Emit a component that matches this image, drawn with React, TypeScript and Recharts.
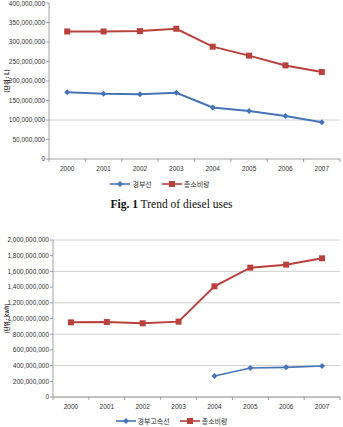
import React from 'react'
import {
  LineChart, Line, XAxis, YAxis, CartesianGrid, Legend,
} from 'recharts'

const years = ['2000', '2001', '2002', '2003', '2004', '2005', '2006', '2007']

// diesel (L)
const gyeongbuDiesel = [171e6, 167e6, 166e6, 170e6, 132e6, 123e6, 110e6, 94e6]
const totalDiesel = [327e6, 327e6, 328e6, 334e6, 288e6, 265e6, 240e6, 223e6]
const dieselTicks = [0, 50e6, 100e6, 150e6, 200e6, 250e6, 300e6, 350e6, 400e6]
const dieselGrid = [50e6, 100e6]

// electricity (kwh)
const gyeongbuHsr = [null, null, null, null, 267e6, 369e6, 378e6, 395e6]
const totalElectric = [951e6, 955e6, 939e6, 960e6, 1410e6, 1648e6, 1686e6, 1767e6]
const electricTicks = [0, 200e6, 400e6, 600e6, 800e6, 1000e6, 1200e6, 1400e6, 1600e6, 1800e6, 2000e6]

const BLUE = '#4674B8'
const RED = '#B8413E'
const AXIS = '#8c8c8c'
const GRID = '#c4c4c4'
const FONT = '"Liberation Sans", Arial, sans-serif'
const KFONT = '"Noto Sans CJK KR", sans-serif'

const W = 343
const fmt = (v: number) => v.toLocaleString('en-US')

// eslint-disable-next-line @typescript-eslint/no-explicit-any
function SquareDot(props: any) {
  const { cx, cy } = props
  if (cx == null || cy == null) return null
  return <rect x={cx - 3} y={cy - 3} width={6} height={6} fill={RED} />
}

// eslint-disable-next-line @typescript-eslint/no-explicit-any
function DiamondDot(props: any) {
  const { cx, cy, value } = props
  if (cx == null || cy == null || value == null) return null
  return <path d={`M${cx},${cy - 3}L${cx + 3},${cy}L${cx},${cy + 3}L${cx - 3},${cy}Z`} fill={BLUE} />
}

// category tick with Excel-style marks between bands
function makeTick(band: number, last: number) {
  // eslint-disable-next-line @typescript-eslint/no-explicit-any
  return function YearTick(props: any) {
    const { x, y, payload, index } = props
    return (
      <g>
        <line x1={x - band / 2} x2={x - band / 2} y1={y} y2={y + 3} stroke={AXIS} strokeWidth={0.8} />
        {index === last && (
          <line x1={x + band / 2} x2={x + band / 2} y1={y} y2={y + 3} stroke={AXIS} strokeWidth={0.8} />
        )}
        <text x={x} y={y + 11.5} textAnchor="middle" fontSize={6.5} fontFamily={FONT} fill="#333">
          {payload.value}
        </text>
      </g>
    )
  }
}

function makeLegend(names: string[], height: number) {
  return function SeriesLegend() {
    return (
      <div style={{ display: 'flex', justifyContent: 'center', gap: 10, height, alignItems: 'center' }}>
        {names.map((n, i) => (
          <span key={n} style={{ display: 'flex', alignItems: 'center', fontFamily: KFONT, fontSize: 7, color: '#333' }}>
            <svg width={20} height={8} style={{ marginRight: 2 }}>
              <line x1={0} x2={20} y1={4} y2={4} stroke={i === 0 ? BLUE : RED} strokeWidth={1.6} />
              {i === 0
                ? <path d="M10,1L13,4L10,7L7,4Z" fill={BLUE} />
                : <rect x={7} y={1} width={6} height={6} fill={RED} />}
            </svg>
            {n}
          </span>
        ))}
      </div>
    )
  }
}

const dieselData = years.map((y, i) => ({ year: y, gyeongbu: gyeongbuDiesel[i], total: totalDiesel[i] }))
const electricData = years.map((y, i) => ({ year: y, gyeongbu: gyeongbuHsr[i], total: totalElectric[i] }))

const tickStyle = { fontSize: 6.5, fontFamily: FONT, fill: '#333' }

export default function App() {
  const topBand = (W - 49 - 3) / years.length
  const botBand = (W - 53 - 3) / years.length
  return (
    <div style={{ position: 'absolute', left: 0, top: 0, width: W, height: 427, background: '#fff' }}>
      <LineChart width={W} height={195} data={dieselData} margin={{ top: 3, right: 3, bottom: 4, left: 0 }}>
        <CartesianGrid vertical={false} horizontalValues={dieselGrid} stroke={GRID} strokeWidth={0.8} />
        <XAxis
          dataKey="year"
          height={18}
          padding={{ left: topBand / 2, right: topBand / 2 }}
          axisLine={{ stroke: AXIS, strokeWidth: 0.8 }}
          tickLine={false}
          tickSize={0}
          tickMargin={0}
          interval={0}
          tick={makeTick(topBand, years.length - 1)}
        />
        <YAxis
          width={49}
          domain={[0, 400e6]}
          ticks={dieselTicks}
          tickFormatter={fmt}
          tick={tickStyle}
          tickSize={3}
          tickMargin={1}
          axisLine={{ stroke: AXIS, strokeWidth: 0.8 }}
          tickLine={{ stroke: AXIS, strokeWidth: 0.8 }}
          label={{ value: '(단위 : L)', angle: -90, position: 'insideLeft', offset: 7, style: { fontSize: 6, fontFamily: KFONT, fontWeight: 'bold', fill: '#333', textAnchor: 'middle' } }}
        />
        <Legend verticalAlign="bottom" wrapperStyle={{ left: 0, width: 320 }} content={makeLegend(['경부선', '총소비량'], 14)} />
        <Line dataKey="gyeongbu" name="경부선" stroke={BLUE} strokeWidth={2} dot={<DiamondDot />} isAnimationActive={false} />
        <Line dataKey="total" name="총소비량" stroke={RED} strokeWidth={2} dot={<SquareDot />} isAnimationActive={false} />
      </LineChart>

      <div style={{ height: 30, boxSizing: 'border-box', paddingTop: 3, textAlign: 'center', lineHeight: '13px', fontFamily: '"Liberation Serif", serif', fontSize: 11.5, color: '#111' }}>
        <b>Fig. 1</b> Trend of diesel uses
      </div>

      <LineChart width={W} height={202} data={electricData} margin={{ top: 15, right: 3, bottom: 0, left: 0 }}>
        <CartesianGrid vertical={false} stroke={GRID} strokeWidth={0.8} />
        <XAxis
          dataKey="year"
          height={18}
          padding={{ left: botBand / 2, right: botBand / 2 }}
          axisLine={{ stroke: AXIS, strokeWidth: 0.8 }}
          tickLine={false}
          tickSize={0}
          tickMargin={0}
          interval={0}
          tick={makeTick(botBand, years.length - 1)}
        />
        <YAxis
          width={53}
          domain={[0, 2000e6]}
          ticks={electricTicks}
          tickFormatter={fmt}
          tick={tickStyle}
          tickSize={3}
          tickMargin={1}
          axisLine={{ stroke: AXIS, strokeWidth: 0.8 }}
          tickLine={{ stroke: AXIS, strokeWidth: 0.8 }}
          label={{ value: '(단위 : kwh)', angle: -90, position: 'insideLeft', offset: 7, style: { fontSize: 5.5, fontFamily: KFONT, fontWeight: 'bold', fill: '#333', textAnchor: 'middle' } }}
        />
        <Legend verticalAlign="bottom" wrapperStyle={{ left: 0, width: W }} content={makeLegend(['경부고속선', '총소비량'], 12)} />
        <Line dataKey="gyeongbu" name="경부고속선" stroke={BLUE} strokeWidth={1.6} dot={<DiamondDot />} isAnimationActive={false} />
        <Line dataKey="total" name="총소비량" stroke={RED} strokeWidth={2} dot={<SquareDot />} isAnimationActive={false} />
      </LineChart>
    </div>
  )
}
